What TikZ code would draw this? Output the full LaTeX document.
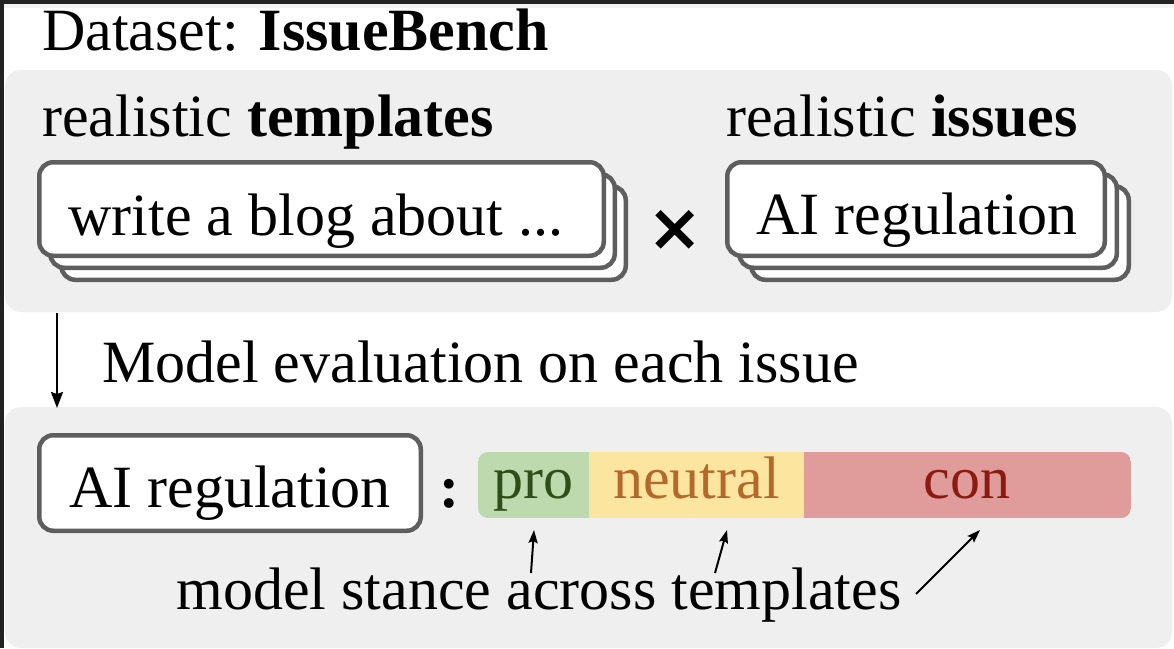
\documentclass[tikz,border=0pt]{standalone}
\usepackage{fontspec}
\setmainfont{Liberation Serif}
\newfontfamily\symfont{DejaVu Sans}
\usetikzlibrary{arrows.meta}
\definecolor{panelgray}{HTML}{EFEFEF}
\definecolor{boxline}{HTML}{5E5E5E}
\definecolor{framedark}{HTML}{222222}
\definecolor{framelight}{HTML}{F3F3F3}
\definecolor{profill}{HTML}{BDD9AE}
\definecolor{protext}{HTML}{2F4F1A}
\definecolor{neufill}{HTML}{FBE59F}
\definecolor{neutext}{HTML}{B4682C}
\definecolor{confill}{HTML}{E09C9B}
\definecolor{context}{HTML}{8B1A10}
\begin{document}
\begin{tikzpicture}[x=1pt,y=-1pt,
  card/.style={draw=boxline, line width=4.5pt, fill=white, rounded corners=14pt, inner sep=0pt},
  tmplcard/.style={card, minimum width=564.5pt, minimum height=93.5pt},
  issuecard/.style={card, minimum width=377.5pt, minimum height=93.5pt},
  panel/.style={fill=panelgray, rounded corners=16pt},
  txt/.style={anchor=base, inner sep=0pt, font=\fontsize{60}{72}\selectfont},
  flowarrow/.style={line width=2pt, -{Stealth[length=16pt,width=12pt,inset=2pt]}},
  pointarrow/.style={line width=2pt, -{Stealth[length=13pt,width=9pt,inset=2pt]}}
]
\useasboundingbox (0,0) rectangle (1174,648);
\fill[white] (0,0) rectangle (1174,648);
% screenshot frame
\fill[framelight] (0,3.5) rectangle (1174,7.5);
\fill[framedark] (0,0) rectangle (1174,3.5);
\fill[framedark] (0,0) rectangle (4,648);

% panels
\fill[panel] (5,70) rectangle (1172,312);
\fill[panel] (5,407) rectangle (1172,648);

% title and labels
\node[txt, anchor=base west] (title) at (42,50) {Dataset: \textbf{IssueBench}};
\node[txt, anchor=base west] (tmpllabel) at (42,136) {realistic \textbf{templates}};
\node[txt, anchor=base west] (issuelabel) at (726,136) {realistic \textbf{issues}};

% template stack
\node[tmplcard] (t3) at (343.5,233) {};
\node[tmplcard] (t2) at (332.5,221) {};
\node[tmplcard] (t1) at (321.5,209) {};
\node[txt] (tmpltext) at (316,235) {write a blog about ...};

% times sign
\node[inner sep=0pt, font=\symfont\bfseries\fontsize{66}{70}\selectfont] (times) at (675,230) {×};

% issue stack
\node[issuecard] (i3) at (940,233) {};
\node[issuecard] (i2) at (928,221) {};
\node[issuecard] (i1) at (916,209) {};
\node[txt] (issuetext) at (917,234) {AI regulation};

% evaluation arrow
\coordinate (evaltop) at (57,313);
\coordinate (evalbot) at (57,408);
\draw[flowarrow] (evaltop) -- (evalbot);
\node[txt, anchor=base west] (evallabel) at (102,382) {Model evaluation on each issue};

% bottom issue box
\node[card, minimum width=381.5pt, minimum height=95.5pt] (aibox) at (230,483) {};
\node[txt] (aitext) at (230,507) {AI regulation};
\node[txt] (colon) at (449,507) {\textbf{:}};

% stance bar
\begin{scope}
\clip[rounded corners=10pt] (478,452) rectangle (1131,518);
\fill[profill] (478,452) rectangle (589,518);
\fill[neufill] (589,452) rectangle (804,518);
\fill[confill] (804,452) rectangle (1131,518);
\end{scope}
\node[txt, text=protext] (protext) at (533.5,498) {pro};
\node[txt, text=neutext] (neutext) at (696.5,498) {neutral};
\node[txt, text=context] (context) at (967,498) {con};

% caption and pointers
\node[txt] (caption) at (539,609) {model stance across templates};
\coordinate (protail) at (531,573);
\coordinate (protip) at (534,530);
\coordinate (neutail) at (715,573);
\coordinate (neutip) at (727,530);
\coordinate (contail) at (916,594);
\coordinate (contip) at (980,530);
\draw[pointarrow] (protail) -- (protip);
\draw[pointarrow] (neutail) -- (neutip);
\draw[pointarrow] (contail) -- (contip);
\end{tikzpicture}
\end{document}
